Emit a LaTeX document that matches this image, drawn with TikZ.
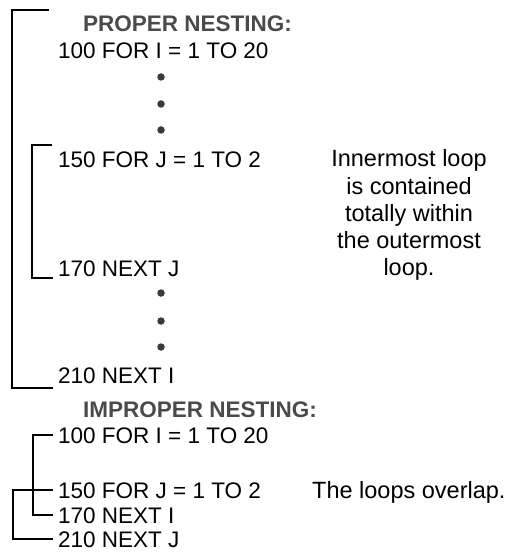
\documentclass[tikz,border=0pt]{standalone}
\usepackage{fontspec}
\setmainfont{Liberation Sans}
\definecolor{headgray}{HTML}{4A4A4A}
\definecolor{dotgray}{HTML}{3A3A3A}
\begin{document}
\begin{tikzpicture}[x=1pt,y=-1pt,
  code/.style={anchor=base west, inner sep=0pt, font=\fontsize{22.5}{27}\selectfont},
  heading/.style={anchor=base west, inner sep=0pt, text=headgray,
    font=\fontsize{22.5}{27}\selectfont\bfseries},
  note/.style={anchor=base, inner sep=0pt, font=\fontsize{23.5}{27}\selectfont},
  bracket/.style={line width=1.6pt, line cap=rect},
  dot/.style={circle, fill=dotgray, inner sep=0pt, minimum size=7.5pt}]
\useasboundingbox (0,0) rectangle (510,553);

% ---- proper nesting ----
\node[heading] (hProper) at (83,32) {PROPER NESTING:};
\node[code] (p100) at (58,59)  {100 FOR I = 1 TO 20};
\node[dot] (d1) at (161,77) {};
\node[dot] (d2) at (161,104) {};
\node[dot] (d3) at (161,130) {};
\node[code] (p150) at (58,168) {150 FOR J = 1 TO 2};
\node[code] (p170) at (58,276) {170 NEXT J};
\node[dot] (d4) at (161,293) {};
\node[dot] (d5) at (161,321) {};
\node[dot] (d6) at (161,347) {};
\node[code] (p210) at (58,383) {210 NEXT I};

\node[note] (n1) at (409,167) {Innermost loop};
\node[note] (n2) at (409,194) {is contained};
\node[note] (n3) at (409,221) {totally within};
\node[note] (n4) at (409,248) {the outermost};
\node[note] (n5) at (409,275) {loop.};

% outer loop bracket
\coordinate (outerTop) at (48,10);
\coordinate (outerBot) at (52,388);
\draw[bracket] (outerTop) -- ++(-36,0) |- (outerBot);
% inner loop bracket
\coordinate (innerTop) at (51,145);
\coordinate (innerBot) at (52,278);
\draw[bracket] (innerTop) -- ++(-19,0) |- (innerBot);

% ---- improper nesting ----
\node[heading] (hImproper) at (83,417) {IMPROPER NESTING:};
\node[code] (i100) at (58,443) {100 FOR I = 1 TO 20};
\node[code] (i150) at (58,498) {150 FOR J = 1 TO 2};
\node[code] (i170) at (58,523) {170 NEXT I};
\node[code] (i210) at (58,547) {210 NEXT J};
\node[note, anchor=base west] (ov) at (312,498) {The loops overlap.};

\draw[bracket] ([xshift=-6pt]i100.west) -- ++(-19,0) |- ([xshift=-6pt]i170.west);
\draw[bracket] ([xshift=-6pt]i150.west) -- ++(-39,0) |- ([xshift=-6pt]i210.west);
\end{tikzpicture}
\end{document}
